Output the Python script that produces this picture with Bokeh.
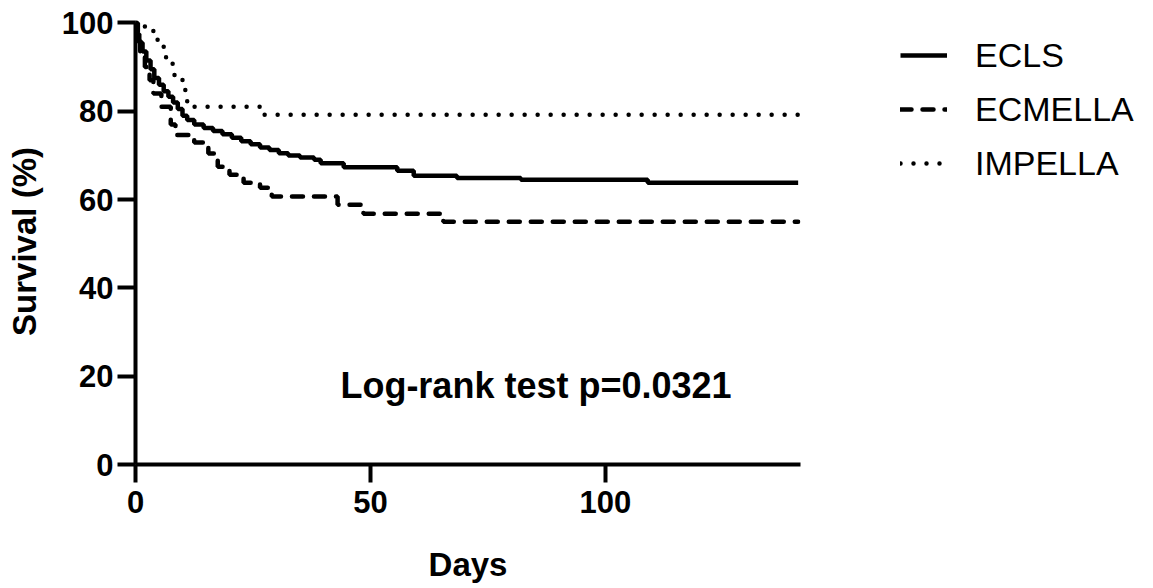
from bokeh.plotting import figure
from bokeh.models import Range1d, FixedTicker, Legend, LegendItem, Label
from bokeh.embed import file_html
from bokeh.resources import INLINE

# ---- data ----
ecls_days = [0, 0.3, 0.8, 1.5, 2.3, 3.2, 4.0, 5.0, 6.0, 7.0, 8.0, 9.0, 10.0, 11.0, 12.5,
             14.5, 16.5, 18.5, 20.5, 22.5, 24.5, 26.5, 28.5, 30.5, 32.5, 35.0, 38.0,
             39.4, 44.3, 55.7, 59.2, 68.4, 82.0, 109.0, 141.0]
ecls_surv = [100, 97.5, 95.5, 93.5, 91.5, 89.5, 87.5, 86.0, 84.5, 83.3, 82.0, 80.5, 79.0,
             78.0, 77.0, 76.2, 75.5, 74.8, 74.0, 73.2, 72.5, 71.8, 71.2, 70.5, 70.0, 69.5,
             69.0, 68.2, 67.3, 66.5, 65.4, 64.9, 64.5, 63.8, 63.8]

ecmella_days = [0, 0.5, 1.0, 2.0, 3.0, 3.8, 5.5, 7.5, 8.5, 12.5, 15.5, 17.5, 20.0, 23.0,
                26.5, 29.0, 43.0, 48.5, 65.5, 141.0]
ecmella_surv = [100, 96, 93, 90, 87, 84, 81, 77, 74.6, 72.9, 70.4, 67.4, 65.6, 63.8,
                62.7, 60.7, 58.8, 56.8, 55.0, 55.0]

impella_days = [0, 2.0, 3.8, 4.7, 6.0, 6.5, 7.9, 8.3, 10.0, 10.6, 11.0, 27.3, 141.0]
impella_surv = [100, 98.9, 97.8, 95.7, 93.6, 91.5, 89.4, 87.2, 85.1, 83.0, 81.0, 79.2, 79.2]

series_names = ["ECLS", "ECMELLA", "IMPELLA"]
x_ticks = [0, 50, 100]
y_ticks = [0, 20, 40, 60, 80, 100]
x_label = "Days"
y_label = "Survival (%)"
note_text = "Log-rank test p=0.0321"

FONT = "Liberation Sans"

p = figure(frame_width=665, frame_height=446, output_backend="svg", toolbar_location=None,
           x_range=Range1d(0, 141.5), y_range=Range1d(0, 101),
           min_border_left=135, min_border_top=18, min_border_bottom=118, min_border_right=353)
p.outline_line_color = None
p.grid.visible = False
p.background_fill_color = "white"

r1 = p.step(ecls_days, ecls_surv, mode="after", line_color="black", line_width=4.5)
r2 = p.step(ecmella_days, ecmella_surv, mode="after", line_color="black", line_width=4.5,
            line_dash="11 11", line_cap="round")
r3 = p.step(impella_days, impella_surv, mode="after", line_color="black", line_width=4.5,
            line_dash="0 13", line_cap="round")

for ax in (p.xaxis[0], p.yaxis[0]):
    ax.axis_line_width = 4
    ax.axis_line_color = "black"
    ax.major_tick_line_width = 4
    ax.major_tick_line_color = "black"
    ax.major_tick_out = 18
    ax.major_tick_in = 0
    ax.minor_tick_line_color = None
    ax.major_label_text_font = FONT
    ax.major_label_text_font_style = "bold"
    ax.major_label_text_font_size = "31px"
    ax.major_label_text_color = "black"
    ax.axis_label_text_font = FONT
    ax.axis_label_text_font_style = "bold"
    ax.axis_label_text_font_size = "33px"
    ax.axis_label_text_color = "black"

p.xaxis[0].ticker = FixedTicker(ticks=x_ticks)
p.yaxis[0].ticker = FixedTicker(ticks=y_ticks)
p.yaxis[0].bounds = (0, 100)
p.xaxis[0].axis_label = x_label
p.yaxis[0].axis_label = y_label
p.xaxis[0].major_label_standoff = 8
p.yaxis[0].major_label_standoff = 4
p.xaxis[0].axis_label_standoff = 30
p.yaxis[0].axis_label_standoff = 16

note = Label(x=43.6, y=17.8, text=note_text, text_font=FONT, text_font_style="bold",
             text_font_size="36px", text_color="black", text_align="left",
             text_baseline="alphabetic")
p.add_layout(note)

legend = Legend(items=[LegendItem(label=series_names[0], renderers=[r1]),
                       LegendItem(label=series_names[1], renderers=[r2]),
                       LegendItem(label=series_names[2], renderers=[r3])],
                location=(100, 274), glyph_width=47, glyph_height=54, label_height=54,
                spacing=0, padding=0, margin=0, label_standoff=28,
                label_text_font=FONT, label_text_font_size="34px",
                label_text_color="black", border_line_color=None,
                background_fill_alpha=0)
p.add_layout(legend, "right")

open("out.html", "w").write(file_html(p, INLINE))
